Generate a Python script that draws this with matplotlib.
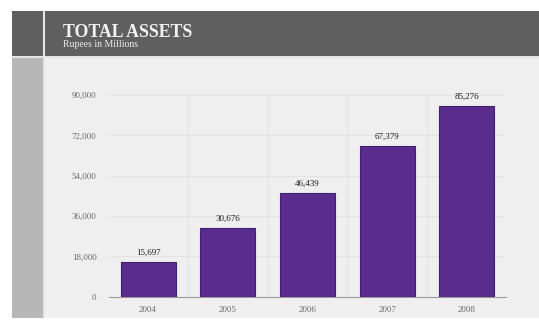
import matplotlib
matplotlib.use("Agg")
from matplotlib import pyplot as plt
from matplotlib.patches import Rectangle

years = ["2004", "2005", "2006", "2007", "2008"]
assets = [15697, 30676, 46439, 67379, 85276]
yticks = [0, 18000, 36000, 54000, 72000, 90000]

W, H = 539, 322
serif = ["Liberation Serif", "DejaVu Serif"]

fig = plt.figure(figsize=(W / 100, H / 100), dpi=100)
fig.patch.set_facecolor("white")

# background panels, in pixel units from the top left corner
def px_rect(x0, y0, x1, y1, color):
    fig.patches.append(Rectangle((x0 / W, 1 - y1 / H), (x1 - x0) / W, (y1 - y0) / H,
                                 transform=fig.transFigure, facecolor=color,
                                 edgecolor="none", zorder=-1))

px_rect(12, 11, W, 56, "#5f5f5f")      # header band
px_rect(12, 56, W, 58, "#e4e4e4")      # thin light rule under header
px_rect(12, 58, 43, 318, "#b7b7b7")    # left strip
px_rect(43, 11, 45, 318, "#e6e6e6")    # light vertical rule
px_rect(45, 58, W, 318, "#efefef")     # chart panel

fig.text(63 / W, 1 - 37 / H, "TOTAL ASSETS", family=serif, fontsize=12.8,
         color="#f2f2f2", fontweight="bold", va="baseline")
fig.text(63 / W, 1 - 47 / H, "Rupees in Millions", family=serif, fontsize=7,
         color="#eeeeee", va="baseline")

ax = fig.add_axes([109 / W, 1 - 296.7 / H, 397 / W, (296.7 - 95) / H])
ax.set_facecolor("none")
ax.set_zorder(2)

x = range(len(years))
ax.bar(x, assets, width=0.69, color="#5a2c8e", edgecolor="#3e2170",
       linewidth=0.8, zorder=3)

for xi, v in zip(x, assets):
    ax.text(xi, v + 2200, f"{v:,}", ha="center", va="bottom", family=serif,
            fontsize=6.5, color="#1a1a1a", zorder=4)

ax.set_xlim(-0.49, 4.49)
ax.set_ylim(0, 90000)
ax.set_yticks(yticks)
ax.set_yticklabels([f"{t:,}" for t in yticks])
ax.set_xticks(list(x))
ax.set_xticklabels(years)

# faint grid: horizontal at ticks, vertical between categories
for t in yticks[1:]:
    ax.axhline(t, color="#e0e0e0", linewidth=0.6, zorder=1)
for b in [0.5, 1.5, 2.5, 3.5]:
    ax.axvline(b, color="#e0e0e0", linewidth=0.6, zorder=1)

for side in ["top", "right", "left"]:
    ax.spines[side].set_visible(False)
ax.spines["bottom"].set_color("#9a9a9a")
ax.spines["bottom"].set_linewidth(0.8)

ax.tick_params(axis="both", length=0, labelsize=6.5, colors="#6a6a6a")
ax.tick_params(axis="y", pad=9)
ax.tick_params(axis="x", pad=7)
for lab in ax.get_xticklabels() + ax.get_yticklabels():
    lab.set_family(serif)

fig.savefig("out.png", dpi=100)
